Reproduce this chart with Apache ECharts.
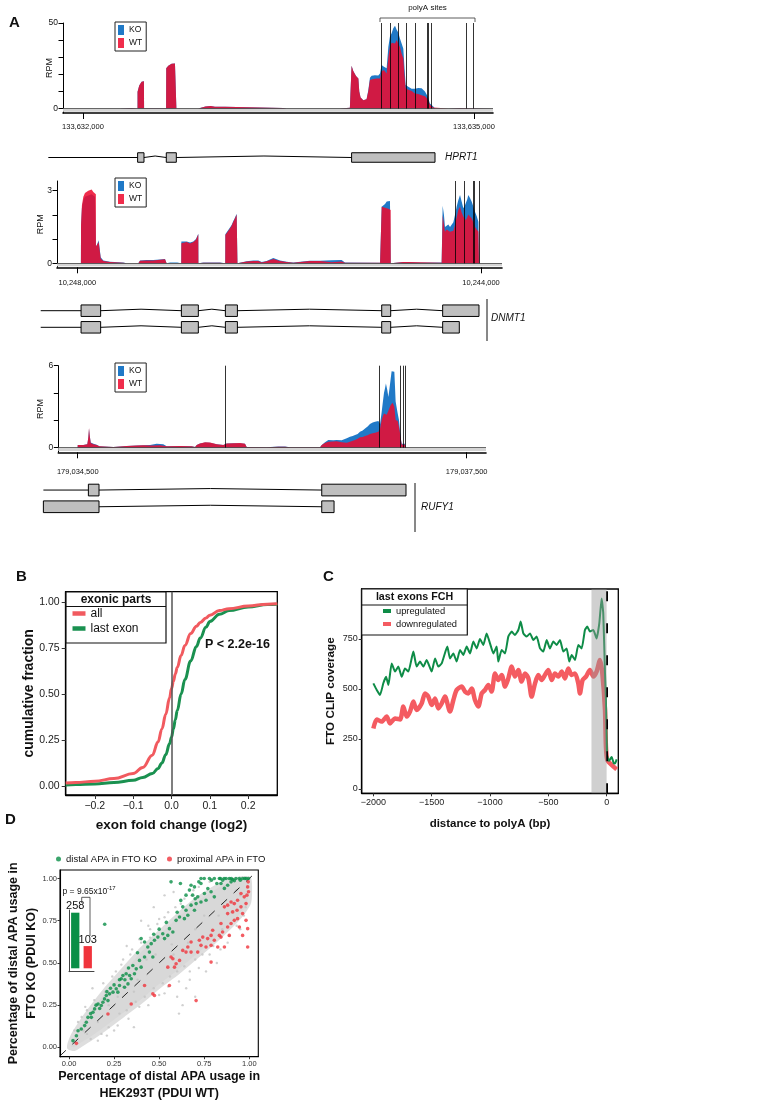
<!DOCTYPE html>
<html><head><meta charset="utf-8">
<script src="https://cdn.jsdelivr.net/npm/echarts@6/dist/echarts.min.js"></script>
<style>html,body{margin:0;padding:0;background:#fff}#c{width:758px;height:1102px}</style>
</head><body><div id="c"></div>
<script>
// ================= DATA =================
// Panel A, HPRT1 (bp relative to 133,632,000)
const hprtTicks = [0, 3000];
const hprtTickLabels = ['133,632,000', '133,635,000'];
const hprtWT = [[-153,0],[284,0],[297,0.3],[373,0.3],[386,0],[419,0],[419,9.8],[432,13.5],[450,15.7],[468,16],[469,0.2],[638,0.2],[639,23.5],[655,25],[680,26.2],[706,26.4],[716,25.5],[717,0],[885,0],[888,1.0],[940,1.2],[980,1.5],[1013,1.1],[1090,1.0],[1091,0.3],[1537,0.3],[1563,0],[1972,0],[1975,0.3],[2048,0.5],[2060,0.5],[2061,25],[2074,22],[2095,19],[2113,17.6],[2120,10],[2130,6.5],[2151,4.9],[2176,5.5],[2189,10],[2202,16.7],[2228,17.3],[2253,17.6],[2279,17.5],[2291,21.6],[2309,22.5],[2330,20.5],[2343,30],[2355,36],[2368,38.5],[2381,39],[2394,38],[2407,40],[2419,38],[2432,36],[2445,32],[2458,29.4],[2466,20],[2476,11.8],[2496,11],[2522,10.2],[2547,8.8],[2573,8.5],[2598,7.8],[2624,7.2],[2645,5.5],[2662,2.2],[2688,0.6],[2701,0],[2805,0],[2816,0.3],[2893,0.3],[2905,0],[3146,0]];
const hprtKO = [[-153,0],[284,0],[297,0.3],[373,0.3],[386,0],[419,0],[419,9.8],[432,13.5],[450,15.7],[468,16],[469,0.2],[638,0.2],[639,23.5],[655,25],[680,26.2],[706,26.4],[716,25.5],[717,0],[885,0],[888,1.0],[940,1.2],[980,1.5],[1013,1.1],[1090,1.0],[1091,0.3],[1537,0.3],[1563,0],[1972,0],[1975,0.3],[2048,0.5],[2060,0.5],[2061,25],[2074,22],[2095,19],[2113,17.6],[2120,10],[2130,6.5],[2151,4.9],[2176,5.5],[2189,10.5],[2202,18],[2215,19.2],[2240,19.5],[2266,19.3],[2279,20.5],[2291,25.5],[2309,24.5],[2330,23.5],[2343,36],[2355,42],[2368,44],[2381,47],[2394,48.4],[2407,46],[2419,44.5],[2432,41],[2445,38],[2458,35],[2466,25],[2476,13.7],[2496,12.8],[2522,11.5],[2547,11.5],[2573,12],[2598,11.8],[2624,10],[2645,7],[2662,3],[2688,1.2],[2701,0],[2805,0],[2816,0.3],[2893,0.3],[2905,0],[3146,0]];
const hprtPolyA = [2291, 2361, 2422, 2483, 2550, 2639, 2647, 2675, 2938, 2995];
const hprtBracket = [2279, 3008];
const hprtGene = [{start:-266, exons:[[419,468],[639,716],[2061,2701]]}];

// Panel A, DNMT1 (bp downstream of 10,248,000; minus strand)
const dnmtTicks = [0, 4000];
const dnmtTickLabels = ['10,248,000', '10,244,000'];
const dnmtWT = [[-201,0],[36,0],[37,1.58],[46,2.4],[60,2.75],[76,2.9],[93,2.85],[109,3.0],[126,2.95],[142,3.05],[159,2.95],[175,2.9],[184,2.85],[185,0.69],[198,0.75],[212,0.88],[225,0.96],[231,0.9],[232,0.2],[258,0.1],[324,0.05],[456,0.02],[489,0],[605,0],[621,0.11],[687,0.12],[753,0.12],[819,0.15],[869,0.17],[885,0],[1030,0],[1031,0.83],[1050,0.9],[1084,0.88],[1117,0.82],[1150,0.88],[1176,0.97],[1199,1.2],[1200,0],[1249,0.02],[1414,0.02],[1466,0],[1467,1.17],[1486,1.25],[1513,1.44],[1529,1.55],[1546,1.72],[1562,1.85],[1579,2.02],[1586,2.0],[1587,0],[1596,0.05],[1678,0.07],[1744,0.1],[1794,0.1],[1827,0.03],[1876,0.08],[1942,0.18],[2008,0.1],[2074,0.05],[2140,0.02],[2305,0.1],[2405,0.1],[2421,0.02],[2520,0.04],[2619,0.07],[2652,0.02],[3000,0.02],[3015,0],[3016,2.34],[3032,2.32],[3049,2.3],[3066,2.38],[3082,2.25],[3098,2.3],[3105,2.2],[3106,0],[3230,0.05],[3280,0.05],[3285,0],[3610,0.02],[3619,0],[3620,2.0],[3633,1.6],[3643,1.3],[3659,1.4],[3676,1.37],[3693,1.3],[3709,1.35],[3726,1.35],[3742,1.58],[3759,1.9],[3775,2.2],[3792,2.34],[3808,2.1],[3825,1.93],[3841,1.85],[3851,1.79],[3864,1.9],[3874,2.02],[3891,1.95],[3907,1.86],[3924,1.7],[3940,1.51],[3957,1.4],[3974,1.31],[3980,0],[4208,0]];
const dnmtKO = [[-201,0],[36,0],[37,1.5],[46,2.3],[60,2.6],[76,2.75],[93,2.7],[109,2.8],[126,2.75],[142,2.85],[159,2.8],[175,2.75],[184,2.7],[185,0.69],[198,0.8],[212,0.95],[225,1.0],[231,0.95],[232,0.25],[258,0.12],[324,0.06],[456,0.03],[489,0],[605,0],[621,0.12],[687,0.14],[753,0.14],[819,0.16],[869,0.18],[885,0],[920,0.03],[990,0.03],[1030,0],[1031,0.9],[1050,0.95],[1084,0.9],[1117,0.86],[1150,0.9],[1176,1.0],[1199,1.22],[1200,0],[1249,0.03],[1414,0.03],[1466,0],[1467,1.2],[1486,1.28],[1513,1.48],[1529,1.58],[1546,1.75],[1562,1.88],[1579,2.05],[1586,2.02],[1587,0],[1596,0.06],[1678,0.08],[1744,0.12],[1794,0.12],[1827,0.05],[1876,0.1],[1942,0.22],[2008,0.12],[2074,0.06],[2140,0.03],[2305,0.11],[2405,0.11],[2421,0.03],[2520,0.13],[2619,0.14],[2652,0.03],[3000,0.02],[3015,0],[3016,2.34],[3032,2.4],[3049,2.45],[3066,2.55],[3082,2.5],[3098,2.57],[3105,2.5],[3106,0],[3230,0.05],[3280,0.05],[3285,0],[3400,0.03],[3610,0.03],[3619,0],[3620,2.38],[3633,2.0],[3643,1.5],[3659,1.55],[3676,1.6],[3693,1.5],[3709,1.55],[3726,1.7],[3742,2.0],[3759,2.35],[3775,2.6],[3792,2.82],[3808,2.55],[3825,2.27],[3841,2.4],[3851,2.48],[3864,2.65],[3874,2.82],[3891,2.7],[3907,2.55],[3924,2.35],[3940,2.13],[3957,1.95],[3974,1.72],[3980,0],[4208,0]];
const dnmtPolyA = [3745, 3838, 3928, 3932, 3980];
const dnmtGene = [
  {start:-363, exons:[[37,231],[1031,1199],[1467,1586],[3016,3105],[3620,3980]]},
  {start:-363, exons:[[37,231],[1031,1199],[1467,1586],[3016,3105],[3620,3785]]}
];

// Panel A, RUFY1 (bp relative to 179,034,500)
const rufyTicks = [0, 3000];
const rufyTickLabels = ['179,034,500', '179,037,500'];
const rufyWT = [[-150,0],[-1,0],[0,0.2],[43,0.2],[74,0.25],[82,0.8],[87,1.46],[92,0.9],[100,0.35],[121,0.25],[146,0.2],[167,0.1],[172,0],[275,0.05],[288,0.1],[378,0.12],[455,0.15],[506,0.17],[558,0.15],[583,0.15],[635,0.18],[686,0.1],[789,0.12],[879,0.1],[905,0.05],[918,0.2],[943,0.3],[982,0.4],[1020,0.38],[1072,0.25],[1123,0.2],[1149,0.3],[1200,0.32],[1252,0.35],[1290,0.28],[1303,0.05],[1457,0.03],[1547,0.07],[1599,0.07],[1637,0.03],[1869,0.03],[1882,0.2],[1907,0.35],[1933,0.44],[1971,0.45],[1997,0.46],[2036,0.4],[2075,0.36],[2100,0.43],[2121,0.5],[2139,0.56],[2159,0.65],[2177,0.76],[2198,0.78],[2216,0.85],[2236,0.9],[2254,1.0],[2275,1.05],[2293,1.1],[2319,1.17],[2332,1.41],[2344,2.0],[2352,2.27],[2362,2.5],[2370,2.63],[2383,2.4],[2396,2.7],[2414,3.12],[2429,3.29],[2442,3.0],[2452,2.02],[2468,1.95],[2478,1.5],[2486,1.05],[2494,0.5],[2499,0.24],[2524,0.24],[2527,0],[3149,0]];
const rufyKO = [[-150,0],[-1,0],[0,0.2],[43,0.2],[74,0.25],[82,0.75],[87,1.4],[92,0.9],[100,0.38],[121,0.28],[146,0.22],[167,0.1],[172,0],[275,0.05],[288,0.1],[378,0.12],[455,0.15],[506,0.17],[558,0.2],[570,0.27],[609,0.28],[660,0.25],[686,0.1],[789,0.12],[879,0.1],[905,0.05],[918,0.2],[943,0.3],[982,0.38],[1020,0.36],[1072,0.25],[1123,0.2],[1149,0.3],[1200,0.32],[1252,0.33],[1290,0.28],[1303,0.05],[1457,0.03],[1547,0.08],[1599,0.08],[1637,0.03],[1869,0.03],[1882,0.2],[1907,0.4],[1933,0.56],[1971,0.55],[1997,0.56],[2036,0.55],[2075,0.68],[2087,0.6],[2100,0.8],[2121,0.85],[2139,0.93],[2159,1.0],[2177,1.17],[2198,1.25],[2216,1.41],[2236,1.55],[2254,1.73],[2275,1.85],[2293,1.9],[2319,1.95],[2332,1.73],[2344,2.6],[2352,3.24],[2362,4.0],[2370,4.34],[2377,4.7],[2388,4.2],[2396,3.7],[2404,4.3],[2414,5.07],[2421,5.6],[2429,5.68],[2442,5.56],[2447,4.5],[2452,3.37],[2468,2.5],[2478,2.0],[2486,1.2],[2494,0.55],[2499,0.28],[2524,0.28],[2527,0],[3149,0]];
const rufyPolyA = [1136, 2329, 2488, 2511, 2524];
const rufyGene = [
  {start:-265, exons:[[82,164],[1882,2532]]},
  {start:-265, exons:[[-265,164],[1882,1977]]}
];

// Panel B: ECDF of exon fold change
const bX = [-0.276,-0.25,-0.2,-0.15,-0.1,-0.075,-0.05,-0.035,-0.025,-0.015,-0.005,0,0.005,0.01,0.015,0.025,0.035,0.05,0.065,0.075,0.09,0.1,0.125,0.15,0.2,0.25,0.276];
const bAll = [0.015,0.018,0.025,0.04,0.067,0.1,0.167,0.24,0.31,0.39,0.48,0.53,0.57,0.61,0.645,0.71,0.765,0.83,0.87,0.89,0.915,0.93,0.955,0.965,0.98,0.99,0.992];
const bLastExon = [0.005,0.007,0.01,0.018,0.03,0.045,0.067,0.095,0.125,0.17,0.23,0.265,0.31,0.36,0.41,0.5,0.58,0.68,0.76,0.805,0.865,0.895,0.935,0.955,0.975,0.988,0.99];
const bXTicks = [-0.2,-0.1,0,0.1,0.2];
const bXTickLabels = ['\u22120.2','\u22120.1','0.0','0.1','0.2'];
const bYTicks = [0,0.25,0.5,0.75,1];
const bYTickLabels = ['0.00','0.25','0.50','0.75','1.00'];

// Panel C: FTO CLIP coverage vs distance to polyA
const cUpregulated = [[-2000,528],[-1971,495],[-1943,470],[-1914,530],[-1891,561],[-1871,520],[-1843,628],[-1814,587],[-1786,612],[-1757,561],[-1729,603],[-1700,587],[-1657,687],[-1629,612],[-1600,637],[-1571,612],[-1543,645],[-1500,587],[-1471,653],[-1443,612],[-1414,628],[-1366,712],[-1343,653],[-1314,678],[-1286,637],[-1257,695],[-1229,670],[-1200,712],[-1171,678],[-1143,737],[-1114,703],[-1086,750],[-1057,720],[-1029,778],[-1000,728],[-971,678],[-943,712],[-929,637],[-900,695],[-871,678],[-843,762],[-814,787],[-786,770],[-757,795],[-737,837],[-714,778],[-686,762],[-657,778],[-629,745],[-600,762],[-571,703],[-543,687],[-514,745],[-486,703],[-457,737],[-429,720],[-400,745],[-371,687],[-343,703],[-320,637],[-300,670],[-271,645],[-243,720],[-214,703],[-186,795],[-166,812],[-143,787],[-114,795],[-86,753],[-63,828],[-43,953],[-29,878],[-14,578],[-6,445],[3,170],[20,140],[43,160],[60,130],[71,127],[86,148]];
const cDownregulated = [[-2000,303],[-1971,348],[-1929,337],[-1886,362],[-1857,328],[-1814,353],[-1771,348],[-1743,412],[-1714,362],[-1686,387],[-1657,437],[-1629,395],[-1586,428],[-1557,478],[-1529,462],[-1500,420],[-1471,453],[-1443,403],[-1414,428],[-1386,462],[-1343,387],[-1314,445],[-1286,495],[-1243,512],[-1214,487],[-1186,478],[-1157,503],[-1129,445],[-1100,412],[-1071,478],[-1043,495],[-1014,520],[-986,487],[-957,578],[-929,545],[-900,570],[-871,512],[-843,553],[-814,612],[-786,562],[-757,595],[-729,537],[-700,578],[-671,553],[-643,462],[-614,528],[-586,570],[-557,545],[-529,570],[-500,595],[-471,545],[-443,578],[-414,562],[-386,587],[-357,553],[-329,603],[-300,570],[-271,578],[-243,528],[-229,478],[-206,545],[-177,562],[-143,595],[-114,562],[-86,587],[-57,645],[-37,578],[-14,395],[-6,212],[6,145],[43,120],[86,98]];
const cShade = [-130, 0];
const cXTicks = [-2000,-1500,-1000,-500,0];
const cXTickLabels = ['\u22122000','\u22121500','\u22121000','\u2212500','0'];
const cYTicks = [0,250,500,750];

// Panel D: PDUI scatter
const dDistal = [[0.566,0.98],[0.618,0.97],[0.677,0.96],[0.732,1.0],[0.779,1.0],[0.806,1.0],[0.834,1.0],[0.852,0.99],[0.871,1.0],[0.889,1.0],[0.908,0.994],[0.926,1.0],[0.945,1.0],[0.963,1.0],[0.982,1.0],[0.843,0.97],[0.88,0.96],[0.862,0.941],[0.899,0.98],[0.917,0.986],[0.732,0.97],[0.696,0.95],[0.668,0.931],[0.649,0.901],[0.686,0.901],[0.714,0.891],[0.751,0.911],[0.788,0.921],[0.806,0.891],[0.76,0.871],[0.732,0.861],[0.705,0.851],[0.677,0.842],[0.631,0.832],[0.649,0.812],[0.696,0.812],[0.659,0.782],[0.64,0.762],[0.613,0.772],[0.594,0.752],[0.557,0.703],[0.576,0.683],[0.548,0.663],[0.53,0.644],[0.52,0.673],[0.493,0.653],[0.474,0.634],[0.456,0.614],[0.419,0.624],[0.4,0.644],[0.437,0.594],[0.446,0.564],[0.465,0.535],[0.419,0.535],[0.391,0.515],[0.4,0.475],[0.373,0.465],[0.354,0.485],[0.363,0.436],[0.336,0.426],[0.317,0.436],[0.299,0.426],[0.29,0.406],[0.345,0.406],[0.327,0.376],[0.308,0.356],[0.28,0.366],[0.262,0.347],[0.271,0.327],[0.244,0.327],[0.225,0.317],[0.207,0.307],[0.197,0.287],[0.216,0.277],[0.188,0.267],[0.179,0.248],[0.161,0.257],[0.142,0.228],[0.133,0.208],[0.124,0.178],[0.105,0.178],[0.096,0.149],[0.087,0.129],[0.068,0.109],[0.05,0.099],[0.041,0.069],[0.022,0.04],[0.198,0.729],[0.5,0.7],[0.54,0.74],[0.47,0.67],[0.38,0.56],[0.33,0.47],[0.25,0.37],[0.23,0.35],[0.17,0.23],[0.15,0.25],[0.6,0.8],[0.7,0.88],[0.77,0.94],[0.62,0.87],[0.82,0.97],[0.75,1.0],[0.79,0.99],[0.84,1.0],[0.9,1.0],[0.95,0.99],[0.975,1.0],[0.995,1.0],[0.86,1.0],[0.72,0.98],[0.28,0.4],[0.31,0.4],[0.12,0.2],[0.21,0.33]];
const dProximal = [[0.994,0.98],[0.991,0.95],[0.996,0.921],[0.987,0.901],[0.972,0.891],[0.982,0.851],[0.954,0.911],[0.935,0.871],[0.917,0.851],[0.899,0.861],[0.88,0.842],[0.862,0.832],[0.932,0.812],[0.963,0.792],[0.982,0.752],[0.935,0.762],[0.917,0.752],[0.899,0.733],[0.945,0.713],[0.88,0.713],[0.852,0.683],[0.834,0.663],[0.797,0.693],[0.788,0.663],[0.806,0.634],[0.769,0.644],[0.742,0.653],[0.723,0.634],[0.76,0.594],[0.788,0.604],[0.825,0.594],[0.862,0.594],[0.889,0.663],[0.963,0.663],[0.991,0.703],[0.991,0.594],[0.677,0.624],[0.659,0.594],[0.649,0.564],[0.631,0.574],[0.613,0.515],[0.594,0.495],[0.576,0.525],[0.585,0.475],[0.548,0.475],[0.566,0.535],[0.788,0.505],[0.557,0.366],[0.465,0.317],[0.474,0.307],[0.419,0.366],[0.345,0.257],[0.216,0.198],[0.041,0.024],[0.705,0.277],[0.677,0.564],[0.714,0.564],[0.732,0.604],[0.843,0.733],[0.88,0.792],[0.908,0.802],[0.954,0.832],[0.843,0.653]];
const dOther = [[0.05,0.15],[0.1,0.22],[0.12,0.05],[0.18,0.08],[0.2,0.33],[0.22,0.12],[0.26,0.45],[0.28,0.2],[0.3,0.52],[0.32,0.22],[0.35,0.58],[0.37,0.27],[0.4,0.62],[0.4,0.75],[0.42,0.3],[0.45,0.7],[0.47,0.35],[0.5,0.76],[0.52,0.38],[0.55,0.8],[0.56,0.42],[0.58,0.92],[0.6,0.45],[0.62,0.85],[0.64,0.48],[0.65,0.35],[0.68,0.9],[0.7,0.52],[0.72,0.95],[0.74,0.55],[0.76,0.45],[0.78,0.98],[0.8,0.6],[0.82,0.5],[0.85,0.7],[0.88,0.62],[0.9,0.8],[0.93,0.72],[0.95,0.9],[0.97,0.78],[0.99,0.95],[0.45,0.65],[0.33,0.47],[0.25,0.1],[0.15,0.25],[0.08,0.1],[0.6,0.3],[0.63,0.25],[0.53,0.32],[0.67,0.4],[0.48,0.55],[0.38,0.4],[0.3,0.36],[0.22,0.25],[0.7,0.7],[0.85,0.85],[0.93,0.93],[0.43,0.52],[0.57,0.61],[0.75,0.78],[0.27,0.3],[0.36,0.33],[0.58,0.55],[0.66,0.62],[0.83,0.78],[0.91,0.85],[0.16,0.15],[0.1,0.08],[0.07,0.18],[0.14,0.28],[0.19,0.38],[0.24,0.42],[0.29,0.49],[0.34,0.55],[0.39,0.64],[0.44,0.72],[0.49,0.73],[0.53,0.77],[0.59,0.83],[0.64,0.88],[0.69,0.93],[0.16,0.04],[0.21,0.07],[0.27,0.13],[0.33,0.17],[0.39,0.24],[0.44,0.25],[0.5,0.31],[0.55,0.36],[0.61,0.39],[0.67,0.45],[0.72,0.47],[0.78,0.55],[0.84,0.58],[0.89,0.66],[0.95,0.7],[0.98,0.83],[0.53,0.9],[0.47,0.83],[0.32,0.6],[0.61,0.2],[0.7,0.3],[0.36,0.12],[0.13,0.35],[0.09,0.24],[0.03,0.1]];
const dGrayBand = [[0,0],[0.02,0.07],[0.06,0.14],[0.12,0.23],[0.2,0.34],[0.3,0.46],[0.4,0.58],[0.5,0.68],[0.6,0.78],[0.7,0.87],[0.8,0.94],[0.88,0.985],[0.95,1.0],[1.0,1.0],[1.0,0.86],[0.96,0.79],[0.9,0.72],[0.8,0.62],[0.7,0.53],[0.6,0.44],[0.5,0.36],[0.4,0.27],[0.3,0.19],[0.2,0.11],[0.12,0.05],[0.06,0.01],[0.03,-0.01]];
const dTicks = [0,0.25,0.5,0.75,1];
const dTickLabels = ['0.00','0.25','0.50','0.75','1.00'];
const dInsetCats = ['distal', 'proximal'];
const dInsetCounts = [258, 103];

// ================= STYLE / HELPERS =================
const FONT = "'Liberation Sans', Arial, Helvetica, sans-serif";
const KO_COLOR = '#2079c7';
const WT_COLOR = 'rgba(238,10,46,0.86)';
const GREEN = '#0e8c47';
const RED_B = '#f15a5f';
const RED_D = '#f0343c';

function lab(ticks, labels) {
  return function (v) {
    const i = ticks.findIndex(t => Math.abs(t - v) < 1e-9);
    return i >= 0 ? labels[i] : '';
  };
}
function trackX(gi, min, max, ticks, labels, margin) {
  return {type:'value', gridIndex:gi, min, max,
    axisLine:{show:true, onZero:false, lineStyle:{color:'#000', width:1.6}},
    axisTick:{show:true, customValues:ticks, length:6, lineStyle:{color:'#000', width:1}},
    axisLabel:{show:true, customValues:ticks, formatter:lab(ticks, labels), fontSize:7.5, color:'#111', margin},
    splitLine:{show:false}};
}
function trackY(gi, min, max, ticks, labelVals, nameGap) {
  return {type:'value', gridIndex:gi, min, max, name:'RPM', nameLocation:'middle', nameRotate:90, nameGap,
    nameMoveOverlap:false,
    nameTextStyle:{fontSize:9, color:'#111'},
    axisLine:{show:true, onZero:false, lineStyle:{color:'#000', width:1}},
    axisTick:{show:true, customValues:ticks, length:4.5, lineStyle:{color:'#000', width:1}},
    axisLabel:{show:true, customValues:labelVals, fontSize:8.5, color:'#111', margin:5},
    splitLine:{show:false}};
}
function hiddenAxis(gi, min, max, inverse) {
  return {type:'value', gridIndex:gi, min, max, inverse:!!inverse, show:false,
    axisLine:{show:false}, axisTick:{show:false}, axisLabel:{show:false}, splitLine:{show:false}};
}
function geneItems(transcripts) {
  const out = [];
  transcripts.forEach((t, row) => {
    let prev = t.start, first = true;
    t.exons.forEach(ex => {
      if (ex[0] > prev) out.push([prev, ex[0], row, first ? 0 : 1]);
      out.push([ex[0], ex[1], row, 2]);
      prev = ex[1]; first = false;
    });
  });
  return out;
}
function renderGene(h) {
  return function (params, api) {
    const s = api.value(0), e = api.value(1), row = api.value(2), kind = api.value(3);
    const p0 = api.coord([s, row]), p1 = api.coord([e, row]);
    if (kind === 2) {
      return {type:'rect', shape:{x:p0[0], y:p0[1] - h / 2, width:p1[0] - p0[0], height:h},
        style:{fill:'#bfbfbf', stroke:'#000', lineWidth:1}};
    }
    const pts = kind === 1 ? [p0, [(p0[0] + p1[0]) / 2, p0[1] - 1.5], p1] : [p0, p1];
    return {type:'polyline', shape:{points:pts}, style:{stroke:'#000', lineWidth:1, fill:null}};
  };
}
function trackSeries(gi, ko, wt, polyA, ymax, band) {
  return [
    {type:'line', name:'KO', xAxisIndex:gi, yAxisIndex:gi, data:ko, symbol:'none', silent:true, z:2,
      lineStyle:{width:0}, itemStyle:{color:KO_COLOR}, areaStyle:{color:KO_COLOR, opacity:1},
      markArea:{silent:true, itemStyle:{color:'#d4d4d4'}, data:[[{yAxis:band}, {yAxis:0}]]},
      markLine:{silent:true, symbol:['none','none'], label:{show:false},
        lineStyle:{color:'#444', width:0.8, type:'solid'}, data:[{yAxis:0}]}},
    {type:'line', name:'WT', xAxisIndex:gi, yAxisIndex:gi, data:wt, symbol:'none', silent:true, z:3,
      lineStyle:{width:0}, itemStyle:{color:WT_COLOR}, areaStyle:{color:WT_COLOR, opacity:1},
      markLine:{silent:true, symbol:['none','none'], label:{show:false},
        lineStyle:{color:'#000', width:0.8, type:'solid'},
        data:polyA.map(x => [{coord:[x, 0]}, {coord:[x, ymax]}])}}
  ];
}
function trackLegend(top) {
  return {data:['KO','WT'], left:115, top, orient:'vertical', icon:'rect', itemWidth:6, itemHeight:10,
    itemGap:3, padding:[3,4,3,3], borderColor:'#222', borderWidth:1, backgroundColor:'#fff',
    textStyle:{fontSize:8.5, color:'#111', fontFamily:FONT}, selectedMode:false};
}
const G = (o) => Object.assign({containLabel:false, outerBoundsMode:'none'}, o);

const option = {
  animation:false,
  backgroundColor:'#fff',
  textStyle:{fontFamily:FONT},
  grid:[
    G({left:63, top:23, width:430, height:90}),
    G({left:40, top:150, width:453, height:15}),
    G({left:57, top:181, width:445, height:86.3}),
    G({left:40, top:302.4, width:462, height:33.2}),
    G({left:58.3, top:365.7, width:427.7, height:86.6}),
    G({left:43, top:481.7, width:443, height:33.4}),
    G({left:65.7, top:591.7, width:211.6, height:203.3, show:true, borderColor:'#000', borderWidth:1.3, backgroundColor:'transparent'}),
    G({left:361.7, top:589, width:256.6, height:204.3, show:true, borderColor:'#000', borderWidth:1.3, backgroundColor:'transparent'}),
    G({left:60, top:870, width:198.3, height:186.7, show:true, borderColor:'#000', borderWidth:1.1, backgroundColor:'transparent'}),
    G({left:69, top:910, width:25, height:61.7})
  ],
  xAxis:[
    trackX(0, -153, 3146, hprtTicks, hprtTickLabels, 10),
    hiddenAxis(1, -330, 3146),
    trackX(2, -201, 4208, dnmtTicks, dnmtTickLabels, 12),
    hiddenAxis(3, -370, 4208),
    trackX(4, -150, 3149, rufyTicks, rufyTickLabels, 15.5),
    hiddenAxis(5, -268, 3149),
    {type:'value', gridIndex:6, min:-0.276, max:0.276,
      name:'exon fold change (log2)', nameLocation:'middle', nameGap:23, nameMoveOverlap:false,
      nameTextStyle:{fontSize:13.5, fontWeight:'bold', color:'#111'},
      axisLine:{show:true, onZero:false, lineStyle:{color:'#000', width:1.3}},
      axisTick:{show:true, customValues:bXTicks, length:4, lineStyle:{color:'#333'}},
      axisLabel:{show:true, customValues:bXTicks, formatter:lab(bXTicks, bXTickLabels), fontSize:10.5, color:'#222', margin:6},
      splitLine:{show:false}},
    {type:'value', gridIndex:7, min:-2100, max:100,
      name:'distance to polyA (bp)', nameLocation:'middle', nameGap:25, nameMoveOverlap:false,
      nameTextStyle:{fontSize:11.5, fontWeight:'bold', color:'#111'},
      axisLine:{show:true, onZero:false, lineStyle:{color:'#000', width:1.3}},
      axisTick:{show:true, customValues:cXTicks, length:3, lineStyle:{color:'#333'}},
      axisLabel:{show:true, customValues:cXTicks, formatter:lab(cXTicks, cXTickLabels), fontSize:9, color:'#222', margin:5},
      splitLine:{show:false}},
    {type:'value', gridIndex:8, min:-0.05, max:1.05,
      name:'Percentage of distal APA usage in\nHEK293T (PDUI WT)', nameLocation:'middle', nameGap:11.5, nameMoveOverlap:false,
      nameTextStyle:{fontSize:12.5, fontWeight:'bold', color:'#111', lineHeight:16.6},
      axisLine:{show:true, onZero:false, lineStyle:{color:'#000', width:1.1}},
      axisTick:{show:true, customValues:dTicks, length:2.5, lineStyle:{color:'#333'}},
      axisLabel:{show:true, customValues:dTicks, formatter:lab(dTicks, dTickLabels), fontSize:7.5, color:'#333', margin:3},
      splitLine:{show:false}},
    {type:'category', gridIndex:9, data:dInsetCats,
      axisLine:{show:true, onZero:false, lineStyle:{color:'#444', width:1}},
      axisTick:{show:false}, axisLabel:{show:false}, splitLine:{show:false}}
  ],
  yAxis:[
    trackY(0, -2.6, 50, [0,10,20,30,40,50], [0,50], 8.5),
    hiddenAxis(1, -0.5, 0.5, true),
    trackY(2, -0.165, 3.4, [0,1,2,3], [0,3], 12),
    hiddenAxis(3, -0.5, 1.5, true),
    trackY(4, -0.34, 6, [0,2,4,6], [0,6], 12.8),
    hiddenAxis(5, -0.5, 1.5, true),
    {type:'value', gridIndex:6, min:-0.05, max:1.058,
      name:'cumulative fraction', nameLocation:'middle', nameRotate:90, nameGap:29.5, nameMoveOverlap:false,
      nameTextStyle:{fontSize:14, fontWeight:'bold', color:'#111'},
      axisLine:{show:true, onZero:false, lineStyle:{color:'#000', width:1.3}},
      axisTick:{show:true, customValues:bYTicks, length:4, lineStyle:{color:'#333'}},
      axisLabel:{show:true, customValues:bYTicks, formatter:lab(bYTicks, bYTickLabels), fontSize:10.5, color:'#222', margin:6},
      splitLine:{show:false}},
    {type:'value', gridIndex:7, min:-21.5, max:1000,
      name:'FTO CLIP coverage', nameLocation:'middle', nameRotate:90, nameGap:24.5, nameMoveOverlap:false,
      nameTextStyle:{fontSize:11.7, fontWeight:'bold', color:'#111'},
      axisLine:{show:true, onZero:false, lineStyle:{color:'#000', width:1.3}},
      axisTick:{show:true, customValues:cYTicks, length:3, lineStyle:{color:'#333'}},
      axisLabel:{show:true, customValues:cYTicks, fontSize:9, color:'#222', margin:4},
      splitLine:{show:false}},
    {type:'value', gridIndex:8, min:-0.055, max:1.05,
      name:'Percentage of distal APA usage in\nFTO KO (PDUI KO)', nameLocation:'middle', nameRotate:90, nameGap:19, nameMoveOverlap:false,
      nameTextStyle:{fontSize:12.5, fontWeight:'bold', color:'#111', lineHeight:18.4},
      axisLine:{show:true, onZero:false, lineStyle:{color:'#000', width:1.1}},
      axisTick:{show:true, customValues:dTicks, length:2.5, lineStyle:{color:'#333'}},
      axisLabel:{show:true, customValues:dTicks, formatter:lab(dTicks, dTickLabels), fontSize:7.5, color:'#333', margin:3},
      splitLine:{show:false}},
    {type:'value', gridIndex:9, min:-15.8, max:270.5,
      axisLine:{show:true, onZero:false, lineStyle:{color:'#444', width:1}},
      axisTick:{show:false}, axisLabel:{show:false}, splitLine:{show:false}}
  ],
  legend:[
    trackLegend(22),
    trackLegend(178),
    trackLegend(363),
    {data:['all','last exon'], left:72.5, top:607.5, orient:'vertical', icon:'rect', itemWidth:13, itemHeight:4.5,
      itemGap:3, padding:0, selectedMode:false, textStyle:{fontSize:12, color:'#111', fontFamily:FONT}},
    {data:['upregulated','downregulated'], left:383, top:606.5, orient:'vertical', icon:'rect', itemWidth:8, itemHeight:4,
      itemGap:4, padding:0, selectedMode:false, textStyle:{fontSize:9.3, color:'#111', fontFamily:FONT}},
    {data:['distal APA in FTO KO','proximal APA in FTO'], left:56, top:854, orient:'horizontal', icon:'circle',
      itemWidth:5, itemHeight:5, itemGap:10, padding:0, selectedMode:false,
      textStyle:{fontSize:9.5, color:'#111', fontFamily:FONT}}
  ],
  series:[
    ...trackSeries(0, hprtKO, hprtWT, hprtPolyA, 50, -1.8),
    {type:'custom', name:'HPRT1 model', xAxisIndex:1, yAxisIndex:1, data:geneItems(hprtGene), renderItem:renderGene(9.5),
      encode:{x:[0,1], y:2}, silent:true, clip:false},
    ...trackSeries(2, dnmtKO, dnmtWT, dnmtPolyA, 3.4, -0.12),
    {type:'custom', name:'DNMT1 model', xAxisIndex:3, yAxisIndex:3, data:geneItems(dnmtGene), renderItem:renderGene(11.5),
      encode:{x:[0,1], y:2}, silent:true, clip:false},
    ...trackSeries(4, rufyKO, rufyWT, rufyPolyA, 6, -0.25),
    {type:'custom', name:'RUFY1 model', xAxisIndex:5, yAxisIndex:5, data:geneItems(rufyGene), renderItem:renderGene(11.7),
      encode:{x:[0,1], y:2}, silent:true, clip:false},
    // B
    {type:'line', name:'last exon', xAxisIndex:6, yAxisIndex:6, data:bX.map((x, i) => [x, bLastExon[i]]),
      smooth:0.4, smoothMonotone:'x', symbol:'none', silent:true, z:3,
      lineStyle:{color:'#1a9150', width:3}, itemStyle:{color:'#1a9150'},
      markLine:{silent:true, symbol:['none','none'], label:{show:false},
        lineStyle:{color:'#555', width:1.5, type:'solid'}, data:[{xAxis:0}]}},
    {type:'line', name:'all', xAxisIndex:6, yAxisIndex:6, data:bX.map((x, i) => [x, bAll[i]]),
      smooth:0.4, smoothMonotone:'x', symbol:'none', silent:true, z:4,
      lineStyle:{color:RED_B, width:3}, itemStyle:{color:RED_B}},
    // C
    {type:'line', name:'downregulated', xAxisIndex:7, yAxisIndex:7, data:cDownregulated,
      smooth:0.25, symbol:'none', silent:true, z:3,
      lineStyle:{color:'#f45b61', width:4.5}, itemStyle:{color:'#f45b61'}},
    {type:'line', name:'upregulated', xAxisIndex:7, yAxisIndex:7, data:cUpregulated,
      smooth:0.15, symbol:'none', silent:true, z:4,
      lineStyle:{color:GREEN, width:2}, itemStyle:{color:GREEN}},
    {type:'custom', name:'shade', xAxisIndex:7, yAxisIndex:7, data:[cShade], silent:true, z:6, clip:false,
      encode:{x:[0,1]},
      renderItem:function (params, api) {
        const cs = params.coordSys;
        const a = api.coord([api.value(0), 0]), b = api.coord([api.value(1), 0]);
        return {type:'rect', shape:{x:a[0], y:cs.y, width:b[0] - a[0], height:cs.height},
          style:{fill:'rgba(150,150,150,0.45)'}};
      },
      markLine:{silent:true, symbol:['none','none'], label:{show:false},
        lineStyle:{color:'#000', width:2, type:[10,22]}, data:[{xAxis:0}]}},
    // D
    {type:'custom', name:'density', xAxisIndex:8, yAxisIndex:8, data:[[0]], silent:true, z:1,
      encode:{x:0},
      renderItem:function (params, api) {
        return {type:'polygon', shape:{points:dGrayBand.map(p => api.coord(p)), smooth:0.2},
          style:{fill:'#d8d8d8', stroke:'#dedede', lineWidth:4}};
      }},
    {type:'scatter', name:'other', xAxisIndex:8, yAxisIndex:8, data:dOther, symbolSize:2.4, silent:true, z:2,
      itemStyle:{color:'#c4c4c4'},
      markLine:{silent:true, symbol:['none','none'], label:{show:false}, z:3,
        lineStyle:{color:'#111', width:0.9, type:[8,9]},
        data:[[{coord:[-0.05,-0.05]}, {coord:[1.05,1.05]}]]}},
    {type:'scatter', name:'distal APA in FTO KO', xAxisIndex:8, yAxisIndex:8, data:dDistal, symbolSize:3.6, silent:true, z:4,
      itemStyle:{color:'#0a8f47'}},
    {type:'scatter', name:'proximal APA in FTO', xAxisIndex:8, yAxisIndex:8, data:dProximal, symbolSize:3.6, silent:true, z:4,
      itemStyle:{color:RED_D}},
    {type:'bar', name:'APA counts', xAxisIndex:9, yAxisIndex:9, barWidth:8.3, silent:true, z:5,
      data:dInsetCounts.map((v, i) => ({value:v, itemStyle:{color: i === 0 ? '#0a8f47' : RED_D}})),
      label:{show:true, position:'top', distance:1, fontSize:11, color:'#111'}}
  ]
};

const chart = echarts.init(document.getElementById('c'), null, {renderer:'canvas'});
chart.setOption(option);

// ---- annotations (positioned from the axes) ----
const T = (x, y, text, o) => Object.assign({type:'text', x, y, z:20,
  style:Object.assign({text, fill:'#111', fontFamily:FONT, fontSize:10, align:'left', verticalAlign:'middle',
    textAlign:'left', textVerticalAlign:'middle'}, o || {})});
const b0 = chart.convertToPixel({xAxisIndex:0, yAxisIndex:0}, [hprtBracket[0], 0]);
const b1 = chart.convertToPixel({xAxisIndex:0, yAxisIndex:0}, [hprtBracket[1], 0]);
const graphics = [
  T(9, 23, 'A', {fontSize:15, fontWeight:'bold'}),
  T(16, 577, 'B', {fontSize:15, fontWeight:'bold'}),
  T(323, 577, 'C', {fontSize:15, fontWeight:'bold'}),
  T(5, 820, 'D', {fontSize:15, fontWeight:'bold'}),
  {type:'polyline', z:20, shape:{points:[[b0[0],22],[b0[0],18],[b1[0],18],[b1[0],22]]}, style:{stroke:'#333', lineWidth:0.8, fill:null}},
  T((b0[0] + b1[0]) / 2, 8, 'polyA sites', {fontSize:8, align:'center', textAlign:'center'}),
  T(445, 157.5, 'HPRT1', {fontSize:10, fontStyle:'italic'}),
  {type:'line', z:20, shape:{x1:487, y1:299, x2:487, y2:341}, style:{stroke:'#111', lineWidth:1}},
  T(491, 318, 'DNMT1', {fontSize:10, fontStyle:'italic'}),
  {type:'line', z:20, shape:{x1:415, y1:483, x2:415, y2:532}, style:{stroke:'#111', lineWidth:1}},
  T(421, 507, 'RUFY1', {fontSize:10, fontStyle:'italic'}),
  // B legend frame
  {type:'rect', z:3, shape:{x:66, y:592, width:100, height:51}, style:{fill:'#fff', stroke:'#111', lineWidth:1.2}},
  {type:'line', z:3, shape:{x1:66, y1:606.5, x2:166, y2:606.5}, style:{stroke:'#111', lineWidth:1}},
  T(116, 599.5, 'exonic parts', {fontSize:12, fontWeight:'bold', align:'center', textAlign:'center'}),
  T(205, 645, 'P < 2.2e-16', {fontSize:12.5, fontWeight:'bold'}),
  // C legend frame
  {type:'rect', z:3, shape:{x:361.7, y:589, width:105.6, height:46}, style:{fill:'#fff', stroke:'#111', lineWidth:1.2}},
  {type:'line', z:3, shape:{x1:361.7, y1:605, x2:467.3, y2:605}, style:{stroke:'#111', lineWidth:1}},
  T(414.5, 597.5, 'last exons FCH', {fontSize:10.7, fontWeight:'bold', align:'center', textAlign:'center'}),
  // D inset p-value
  T(62.5, 892, 'p = 9.65x10', {fontSize:8.5}),
  T(107, 888.5, '-17', {fontSize:6}),
  {type:'polyline', z:20, shape:{points:[[81.7,903],[81.7,897.3],[90,897.3],[90,936]]}, style:{stroke:'#333', lineWidth:0.8, fill:null}}
];
chart.setOption({graphic:graphics});
</script>
</body></html>
